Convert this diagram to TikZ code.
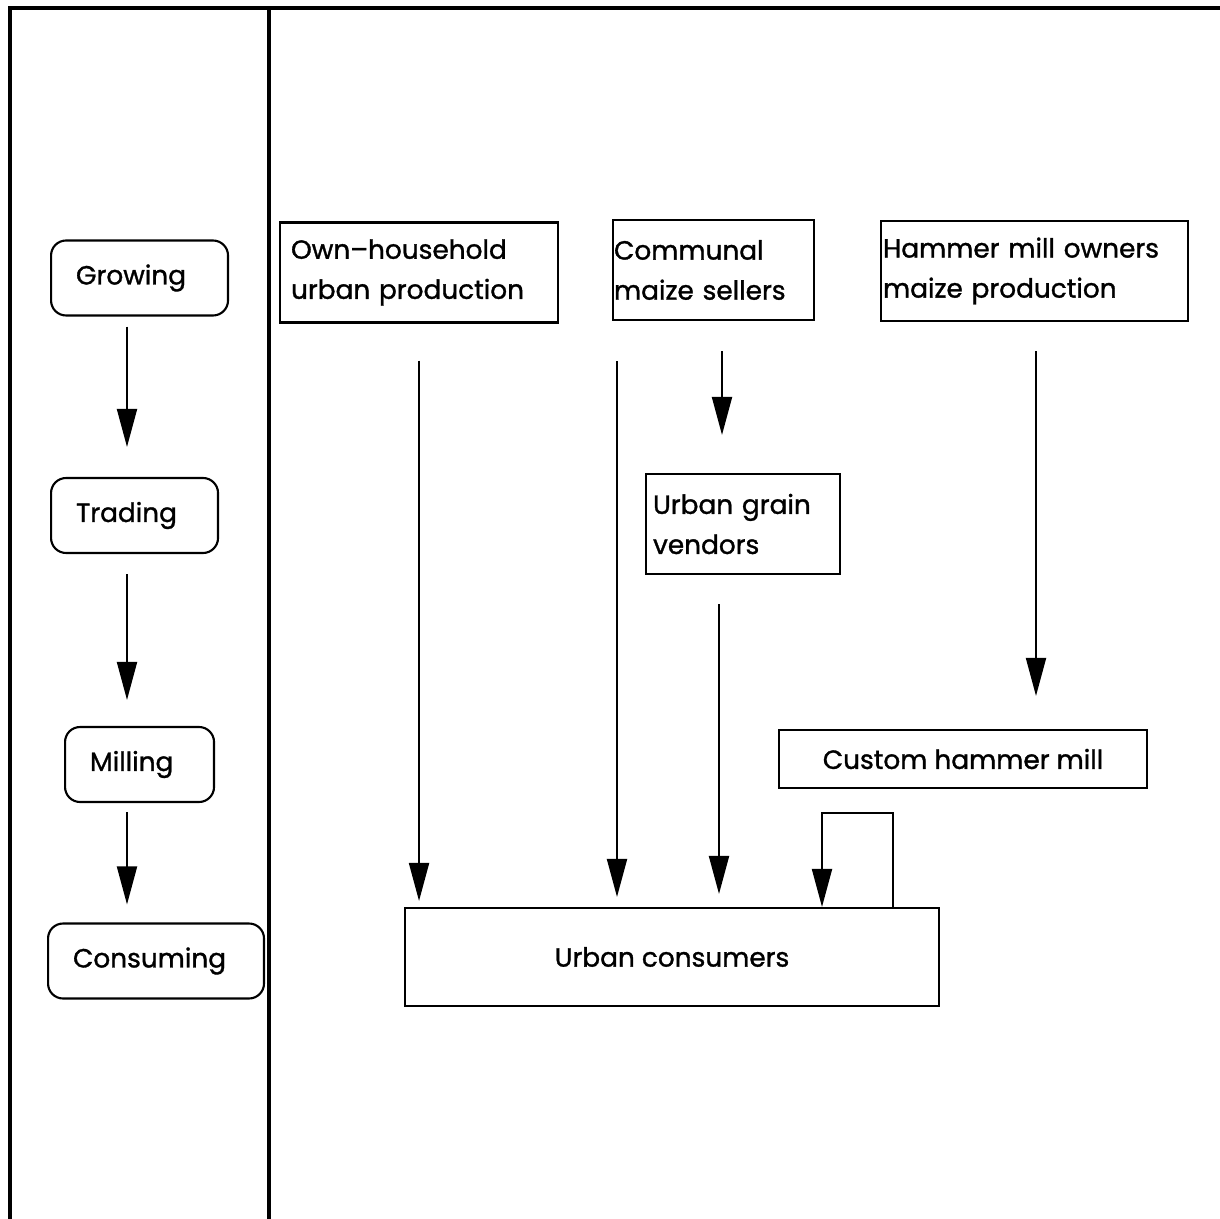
\documentclass[tikz,border=0pt]{standalone}
\usepackage{fontspec}
\setmainfont{Poppins}[BoldFont=Poppins, BoldFeatures={FakeBold=1.2}]
\usepackage{tikz}
\usetikzlibrary{arrows.meta,positioning,calc}

\begin{document}
\begin{tikzpicture}[
    x=0.02cm, y=-0.02cm,
    font=\fontsize{15}{22.8}\selectfont\bfseries,
    stage/.style={draw, rectangle, rounded corners=0.3cm, line width=1.2pt, minimum height=1.5cm, inner xsep=0.5cm, align=left, anchor=west},
    actor/.style={draw, rectangle, line width=1.2pt, minimum height=2cm, align=left, anchor=west},
    flow/.style={-{Triangle[length=0.76cm, width=0.4cm]}, line width=1.1pt}
]
    \useasboundingbox (0,0) rectangle (1220,1219);
    % frame and divider
    \draw[line width=2pt] (1220,8) -- (10,8) -- (10,1219);
    \draw[line width=2.8pt] (269,8) -- (269,1219);

    % stages
    \node[stage, text width=2.54cm] (grow) at (50,278) {Growing};
    \node[stage, text width=2.34cm] (trade) at (50,515.5) {Trading};
    \node[stage, text width=1.98cm] (mill) at (64,764.5) {Milling};
    \node[stage, text width=3.32cm] (cons_s) at (47,961) {Consuming};

    % actors
    \node[actor, minimum width=5.56cm, inner xsep=0.22cm, text width=5.12cm] (own) at (279,272.5) {Own–household\\urban production};
    \node[actor, minimum width=4.02cm, inner xsep=0.02cm, text width=3.98cm] (comm) at (612,270) {Communal\\maize sellers};
    \node[actor, minimum width=6.14cm, inner xsep=0.04cm, text width=6.06cm] (hown) at (880,271) {Hammer mill owners\\maize production};
    \node[actor, minimum width=3.88cm, inner xsep=0.14cm, text width=3.6cm] (vend) at (645,524) {Urban grain\\vendors};
    \node[actor, minimum width=7.36cm, minimum height=1.16cm, align=center] (mill_c) at (778,759) {Custom hammer mill};
    \node[actor, minimum width=10.68cm, minimum height=1.96cm, align=center] (cons) at (404,957) {Urban consumers};

    % lanes
    \coordinate (lane) at (127,0);
    \coordinate (lane_c) at (617,0);
    \coordinate (lane_cv) at (722,0);
    \coordinate (lane_vc) at (719,0);
    \coordinate (lane_h) at (1036,0);
    \coordinate (loopR) at (893,813);
    \coordinate (loopL) at (822,813);

    \draw[flow, shorten <=0.2cm, shorten >=0.6cm] (grow.south -| lane) -- (trade.north -| lane);
    \draw[flow, shorten <=0.4cm, shorten >=0.52cm] (trade.south -| lane) -- (mill.north -| lane);
    \draw[flow, shorten <=0.18cm, shorten >=0.36cm] (mill.south -| lane) -- (cons_s.north -| lane);

    \draw[flow, shorten <=0.74cm, shorten >=0.12cm] (own.south) -- (own.south |- cons.north);
    \draw[flow, shorten <=0.8cm, shorten >=0.2cm] (comm.south -| lane_c) -- (cons.north -| lane_c);
    \draw[flow, shorten <=0.6cm, shorten >=0.76cm] (comm.south -| lane_cv) -- (vend.north -| lane_cv);
    \draw[flow, shorten <=0.58cm, shorten >=0.26cm] (vend.south -| lane_vc) -- (cons.north -| lane_vc);
    \draw[flow, shorten <=0.58cm, shorten >=0.66cm] (hown.south -| lane_h) -- (mill_c.north -| lane_h);
    \draw[flow] (cons.north -| loopR) -- (loopR) -- (loopL) -- (cons.north -| loopL);
\end{tikzpicture}
\end{document}
